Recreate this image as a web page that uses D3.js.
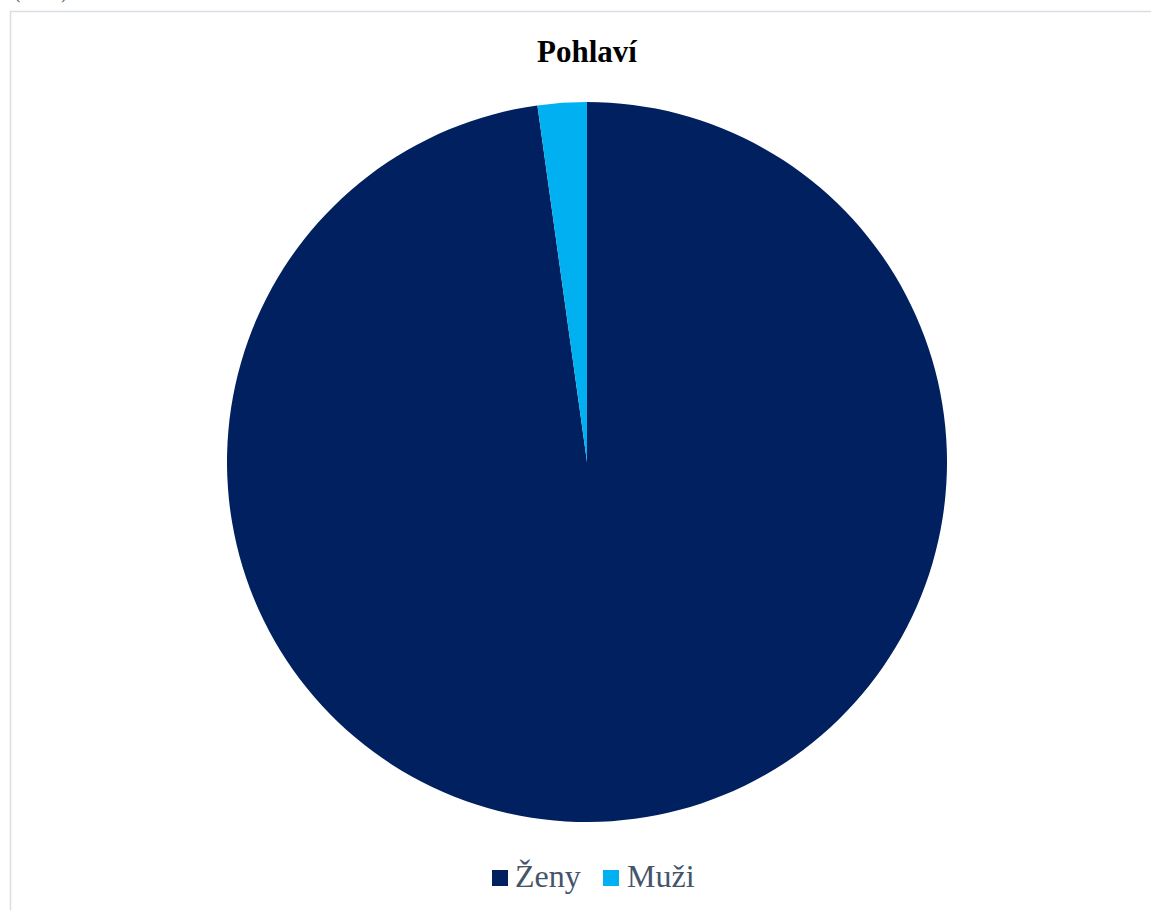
<!DOCTYPE html>
<html><head><meta charset="utf-8">
<script src="https://cdn.jsdelivr.net/npm/d3@7"></script>
<style>html,body{margin:0;padding:0;background:#fff;overflow:hidden}</style>
</head><body>
<script>
const categories = ["Ženy", "Muži"];
const values = [97.8, 2.2];
const colors = ["#002060", "#00B0F0"];
const title = "Pohlaví";

const W = 1151, H = 910;
const svg = d3.select("body").append("svg").attr("width", W).attr("height", H)
  .style("font-family", "'Liberation Serif','Times New Roman',serif");

svg.append("text").attr("x", 15).attr("y", -1).attr("font-size", 16).attr("fill", "#404040").text("(n = 45)");

svg.append("rect").attr("x", 10.5).attr("y", 11.5).attr("width", W + 10).attr("height", H + 10)
  .attr("fill", "#fff").attr("stroke", "#D9DEE6").attr("stroke-width", 1.5);

svg.append("text").attr("x", 587).attr("y", 62).attr("text-anchor", "middle")
  .attr("font-size", 31).attr("font-weight", "bold").attr("fill", "#000").text(title);

const cx = 587, cy = 462, r = 360;
const data = categories.map((c, i) => ({c, v: values[i], col: colors[i]}));
const pie = d3.pie().value(d => d.v).sort(null);
const arc = d3.arc().innerRadius(0).outerRadius(r);
svg.append("g").attr("transform", `translate(${cx},${cy})`)
  .selectAll("path").data(pie(data)).join("path")
  .attr("d", arc).attr("fill", d => d.data.col);

const lg = svg.append("g");
const items = [{x: 492, tx: 515}, {x: 603, tx: 627}];
data.forEach((d, i) => {
  lg.append("rect").attr("x", items[i].x).attr("y", 870).attr("width", 16).attr("height", 16).attr("fill", d.col);
  lg.append("text").attr("x", items[i].tx).attr("y", 887).attr("font-size", 32).attr("fill", "#44546A").text(d.c);
});
</script>
</body></html>
